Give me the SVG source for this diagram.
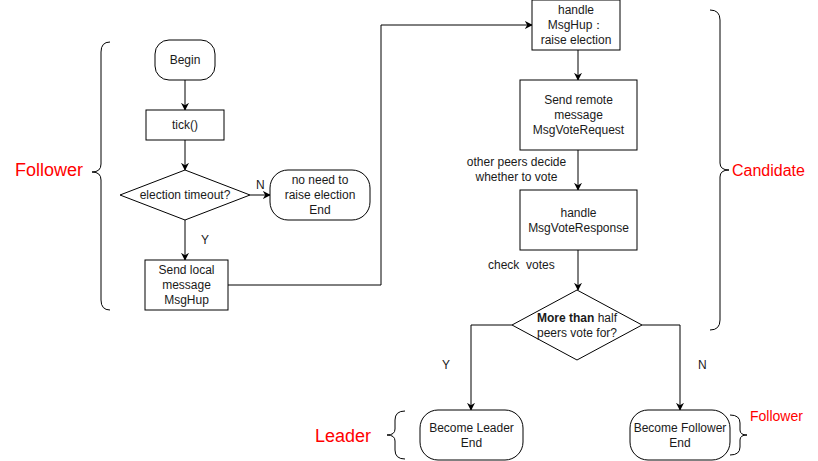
<svg xmlns="http://www.w3.org/2000/svg" width="818" height="461" viewBox="0 0 818 461">
<style>
.box{fill:#fff;stroke:#000;stroke-width:1}
.t{font-family:"Liberation Sans",Arial,sans-serif;font-size:12px;fill:#1a1a1a;text-anchor:middle}
.lbl{font-family:"Liberation Sans",Arial,sans-serif;font-size:12px;fill:#1a1a1a}
.red{font-family:"Liberation Sans",Arial,sans-serif;fill:#ff0000}
.edge{fill:none;stroke:#000;stroke-width:1}
.brace{fill:none;stroke:#000;stroke-width:1}
</style>
<defs>
<marker id="arr" viewBox="0 0 10 10" refX="9" refY="5" markerWidth="8" markerHeight="8" markerUnits="userSpaceOnUse" orient="auto">
<path d="M0,0 L10,5 L0,10 L3,5 Z" fill="#000"/>
</marker>
</defs>
<rect width="818" height="461" fill="#fff"/>

<g id="connectors">
<path class="edge" d="M185,80 V110" marker-end="url(#arr)"/>
<path class="edge" d="M185,140 V170" marker-end="url(#arr)"/>
<path class="edge" d="M250,195 H270" marker-end="url(#arr)"/>
<path class="edge" d="M185,220 V260" marker-end="url(#arr)"/>
<path class="edge" d="M228,285 H381 V25 H532" marker-end="url(#arr)"/>
<path class="edge" d="M578,50 V80" marker-end="url(#arr)"/>
<path class="edge" d="M578,150 V190" marker-end="url(#arr)"/>
<path class="edge" d="M578,250 V290" marker-end="url(#arr)"/>
<path class="edge" d="M512,325 H471 V410" marker-end="url(#arr)"/>
<path class="edge" d="M642,325 H680 V410" marker-end="url(#arr)"/>
<text class="lbl" x="256" y="189">N</text>
<text class="lbl" x="201" y="244">Y</text>
<text class="lbl" x="516.5" y="166" text-anchor="middle">other peers decide</text>
<text class="lbl" x="516.5" y="181" text-anchor="middle">whether to vote</text>
<text class="lbl" x="488" y="269">check&#160; votes</text>
<text class="lbl" x="442" y="369">Y</text>
<text class="lbl" x="698" y="369">N</text>
</g>

<g id="begin">
<rect class="box" x="155" y="40" width="60" height="40" rx="14"/>
<text class="t" x="185" y="64">Begin</text>
</g>
<g id="tick">
<rect class="box" x="146" y="110" width="78" height="30"/>
<text class="t" x="185" y="129">tick()</text>
</g>
<g id="timeout">
<path class="box" d="M185,170 L250,195 L185,220 L120,195 Z"/>
<text class="t" x="185" y="199">election timeout?</text>
</g>
<g id="noneed">
<rect class="box" x="270" y="170" width="100" height="50" rx="18"/>
<text class="t" x="320" y="184">no need to</text>
<text class="t" x="320" y="199">raise election</text>
<text class="t" x="320" y="214">End</text>
</g>
<g id="sendlocal">
<rect class="box" x="145" y="260" width="83" height="50"/>
<text class="t" x="186.5" y="274">Send local</text>
<text class="t" x="186.5" y="289">message</text>
<text class="t" x="186.5" y="304">MsgHup</text>
</g>
<g id="handlehup">
<rect class="box" x="532" y="0" width="88" height="50"/>
<text class="t" x="576" y="14">handle</text>
<text class="t" x="576" y="29">MsgHup：</text>
<text class="t" x="576" y="44">raise election</text>
</g>
<g id="sendremote">
<rect class="box" x="520" y="80" width="117" height="70"/>
<text class="t" x="578.5" y="104">Send remote</text>
<text class="t" x="578.5" y="119">message</text>
<text class="t" x="578.5" y="134">MsgVoteRequest</text>
</g>
<g id="handleresp">
<rect class="box" x="520" y="190" width="117" height="60"/>
<text class="t" x="578.5" y="217">handle</text>
<text class="t" x="578.5" y="232">MsgVoteResponse</text>
</g>
<g id="majority">
<path class="box" d="M577,290 L642,325 L577,360 L512,325 Z"/>
<text class="t" x="577" y="322"><tspan font-weight="bold">More than</tspan> half</text>
<text class="t" x="577" y="337">peers vote for?</text>
</g>
<g id="leader">
<rect class="box" x="420" y="410" width="103" height="50" rx="18"/>
<text class="t" x="471.5" y="432">Become Leader</text>
<text class="t" x="471.5" y="447">End</text>
</g>
<g id="follower">
<rect class="box" x="630" y="410" width="100" height="50" rx="18"/>
<text class="t" x="680" y="432">Become Follower</text>
<text class="t" x="680" y="447">End</text>
</g>

<g id="follower-brace">
<path class="brace" d="M110,42 Q101,42 101,52 L101,164 Q101,172 92,172 Q101,172 101,180 L101,300 Q101,310 110,310"/>
<text class="red" x="15" y="176" font-size="18">Follower</text>
</g>
<g id="candidate-brace">
<path class="brace" d="M710,10 Q720,10 720,20 L720,163 Q720,170 729,170 Q720,170 720,177 L720,320 Q720,330 710,330"/>
<text class="red" x="732" y="176" font-size="16">Candidate</text>
</g>
<g id="leader-brace">
<path class="brace" d="M405,411 Q395,411 395,420 L395,429 Q395,435 387,435 Q395,435 395,441 L395,450 Q395,459 405,459"/>
<text class="red" x="315" y="442" font-size="18">Leader</text>
</g>
<g id="follower-brace2">
<path class="brace" d="M730,415 Q740,415 740,423 L740,430 Q740,435 747,435 Q740,435 740,440 L740,447 Q740,455 730,455"/>
<text class="red" x="750" y="421" font-size="14">Follower</text>
</g>
</svg>
